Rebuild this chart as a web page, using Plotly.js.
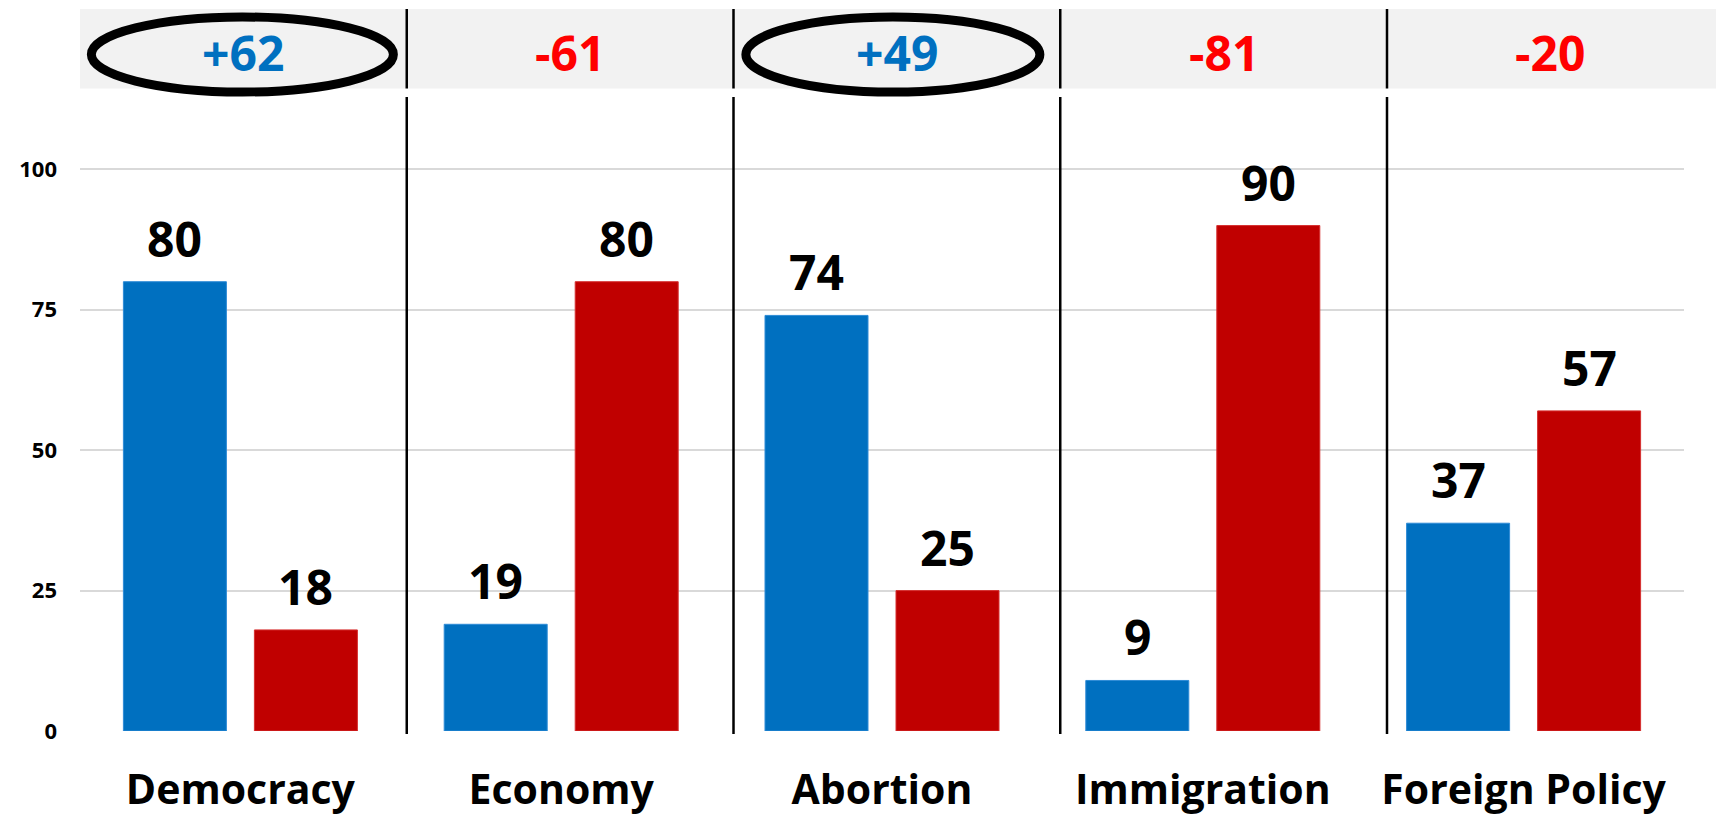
<!DOCTYPE html>
<html>
<head>
<meta charset="utf-8">
<script src="https://cdn.plot.ly/plotly-3.0.1.min.js"></script>
<style>
  html, body { margin: 0; padding: 0; background: #ffffff; }
  #chart { width: 1716px; height: 816px; }
</style>
</head>
<body>
<div id="chart"></div>
<script>
// ---- data ----
const categories = ['Democracy', 'Economy', 'Abortion', 'Immigration', 'Foreign Policy'];
const demValues = [80, 19, 74, 9, 37];
const repValues = [18, 80, 25, 90, 57];
const netValues = [62, -61, 49, -81, -20];
const netLabels = ['+62', '-61', '+49', '-81', '-20'];
const circled = [true, false, true, false, false];
const yTickVals = [0, 25, 50, 75, 100];

// ---- styles ----
const BLUE = '#0070C0';
const RED = '#C00000';
const NET_BLUE = '#0070C0';
const NET_RED = '#FF0000';
const FONT = 'Open Sans, Noto Sans, Arial, sans-serif';

// ---- layout geometry (pixels) ----
const W = 1716, H = 816;
const M = { l: 80, r: 32, t: 102, b: 85 };
const plotW = W - M.l - M.r;
const plotH = H - M.t - M.b;
const px2paperX = px => (px - M.l) / plotW;
const px2paperY = py => (H - M.b - py) / plotH;

// band grid (header cells)
const cellW = 326.75 / plotW;       // paper units
const bandTop = px2paperY(9);
const bandBot = px2paperY(88.5);
const lowerTop = px2paperY(97);
const lowerBot = px2paperY(734);

const shapes = [];
// header band background
shapes.push({
  type: 'rect', xref: 'paper', yref: 'paper',
  x0: 0, x1: 1.03, y0: bandBot, y1: bandTop,
  fillcolor: '#F2F2F2', line: { width: 0 }, layer: 'below'
});
// dividers
for (let k = 1; k < categories.length; k++) {
  const x = k * cellW;
  shapes.push({ type: 'line', xref: 'paper', yref: 'paper', x0: x, x1: x, y0: bandBot, y1: bandTop,
    line: { color: '#000000', width: 2.5 } });
  shapes.push({ type: 'line', xref: 'paper', yref: 'paper', x0: x, x1: x, y0: lowerBot, y1: lowerTop,
    line: { color: '#000000', width: 2.5 } });
}
// ellipses around highlighted net values
const ellHalfW = [151, 0, 147, 0, 0];
const ellOffset = [-1, 0, -4, 0, 0];
circled.forEach((c, i) => {
  if (!c) return;
  const cx = M.l + (i + 0.5) * 326.75 + ellOffset[i];
  shapes.push({
    type: 'circle', xref: 'paper', yref: 'paper',
    x0: px2paperX(cx - ellHalfW[i]), x1: px2paperX(cx + ellHalfW[i]),
    y0: px2paperY(92), y1: px2paperY(17),
    line: { color: '#000000', width: 9 }, fillcolor: 'rgba(0,0,0,0)'
  });
});

const annotations = [];
// net labels in header
netLabels.forEach((t, i) => {
  annotations.push({
    xref: 'paper', yref: 'paper', x: (i + 0.5) * cellW, y: px2paperY(52.5),
    xanchor: 'center', yanchor: 'middle', showarrow: false, text: t,
    font: { family: FONT, size: 48, weight: 700, color: netValues[i] >= 0 ? NET_BLUE : NET_RED }
  });
});
// bar value labels
const slotOffset = 0.2042;
categories.forEach((c, i) => {
  [[demValues[i], -slotOffset], [repValues[i], slotOffset]].forEach(([v, off]) => {
    annotations.push({
      xref: 'x', yref: 'y', x: i + off, y: v, xanchor: 'center', yanchor: 'bottom',
      yshift: 9, showarrow: false, text: String(v),
      font: { family: FONT, size: 48, weight: 700, color: '#000000' }
    });
  });
});

const traces = [
  { type: 'bar', name: 'Democrats', x: categories, y: demValues,
    marker: { color: BLUE, line: { color: '#2E8BD6', width: 1 } }, hoverinfo: 'x+y' },
  { type: 'bar', name: 'Republicans', x: categories, y: repValues,
    marker: { color: RED, line: { color: '#D63030', width: 1 } }, hoverinfo: 'x+y' }
];

const layout = {
  width: W, height: H,
  margin: M,
  paper_bgcolor: '#FFFFFF', plot_bgcolor: '#FFFFFF',
  showlegend: false,
  barmode: 'group', bargap: 0.1833, bargroupgap: 0.2137,
  xaxis: {
    type: 'category', showgrid: false, zeroline: false, showline: false, ticks: '',
    tickfont: { family: FONT, size: 41, weight: 700, color: '#000000' },
    ticklabelstandoff: 31
  },
  yaxis: {
    range: [0, 112], tickvals: yTickVals, ticktext: yTickVals.map(String),
    showgrid: true, gridcolor: '#D9D9D9', gridwidth: 2, zeroline: false, showline: false, ticks: '',
    tickfont: { family: FONT, size: 22, weight: 700, color: '#000000' },
    ticklabelstandoff: 22
  },
  shapes: shapes,
  annotations: annotations
};

Plotly.newPlot('chart', traces, layout, { displayModeBar: false, staticPlot: true });
</script>
</body>
</html>
